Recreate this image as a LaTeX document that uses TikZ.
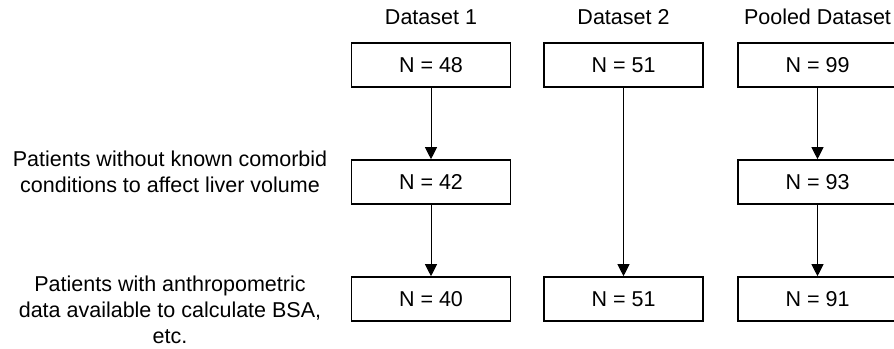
\documentclass[tikz,border=0pt]{standalone}
\usepackage{fontspec}
\setmainfont{Liberation Sans}
\usetikzlibrary{arrows.meta}
\begin{document}
\begin{tikzpicture}[x=1pt,y=-1pt,
  txt/.style={font=\fontsize{21.5}{26}\selectfont},
  nbox/.style={txt, draw, line width=1.6pt, minimum width=159pt, minimum height=44pt, inner sep=0pt},
  head/.style={txt, anchor=base, inner sep=0pt},
  lab/.style={txt, anchor=base, align=center, inner sep=0pt},
  arr/.style={-{Triangle[width=12pt,length=12pt]}, line width=1pt}]
\useasboundingbox (0,0) rectangle (894,348);
\clip (0,0) rectangle (894,348);
% headers
\node[head] (h1) at (431,24) {Dataset 1};
\node[head] (h2) at (623.5,24) {Dataset 2};
\node[head] (h3) at (817.5,24) {Pooled Dataset};
% boxes
\node[nbox] (a1) at (431,65) {N = 48};
\node[nbox] (b1) at (623.5,65) {N = 51};
\node[nbox] (c1) at (817.5,65) {N = 99};
\node[nbox] (a2) at (431,182) {N = 42};
\node[nbox] (c2) at (817.5,182) {N = 93};
\node[nbox] (a3) at (431,299) {N = 40};
\node[nbox] (b3) at (623.5,299) {N = 51};
\node[nbox] (c3) at (817.5,299) {N = 91};
% left labels (base anchor = last line's baseline)
\node[lab] (l1) at (170,192.7) {Patients without known comorbid\\conditions to affect liver volume};
\node[lab] (l2) at (170,343) {Patients with anthropometric\\data available to calculate BSA,\\etc.};
% arrows
\draw[arr] (a1) -- (a2);
\draw[arr] (a2) -- (a3);
\draw[arr] (b1) -- (b3);
\draw[arr] (c1) -- (c2);
\draw[arr] (c2) -- (c3);
\end{tikzpicture}
\end{document}
